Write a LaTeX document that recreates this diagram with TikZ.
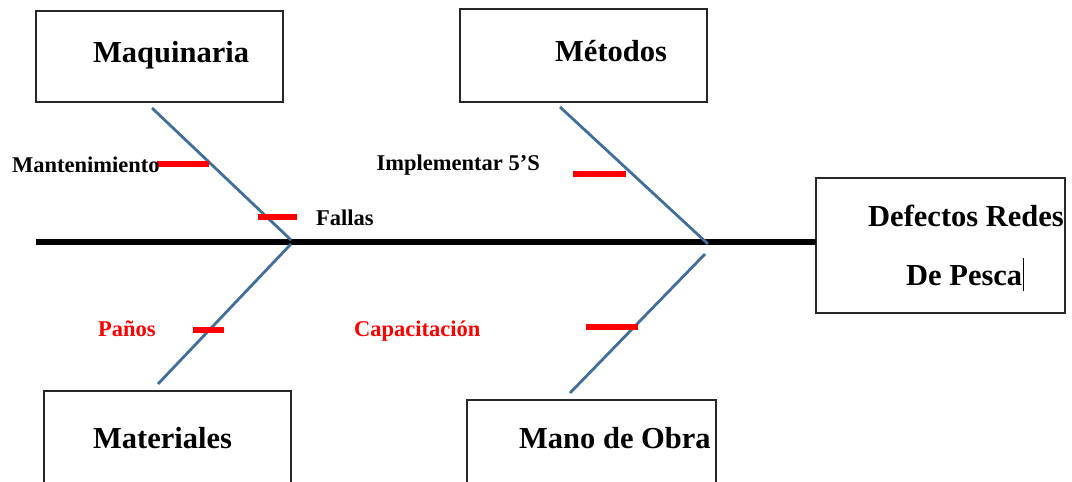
\documentclass[tikz,border=0pt]{standalone}
\usepackage{fontspec}
\setmainfont{Liberation Serif}
\definecolor{bonec}{RGB}{65,110,155}
\definecolor{boxc}{RGB}{40,40,40}
\begin{document}
\begin{tikzpicture}[x=1pt,y=-1pt,
  box/.style={draw=boxc, line width=1.2pt, inner sep=0pt},
  title/.style={font=\bfseries\fontsize{30.5}{32}\selectfont, inner sep=0pt, anchor=base west},
  lab/.style={font=\bfseries\fontsize{22.5}{24}\selectfont, inner sep=0pt, anchor=base west},
  bone/.style={draw=bonec, line width=2.8pt},
  tickline/.style={draw=red, line width=6pt},
  spine/.style={draw=black, line width=5.5pt}]
\clip (0,0) rectangle (1072,482);
\fill[white] (0,0) rectangle (1072,482);
% boxes
\node[box, minimum width=247pt, minimum height=91pt] (bmaq) at (159.5,56.5) {};
\node[box, minimum width=247pt, minimum height=93pt] (bmet) at (583.5,55.5) {};
\node[box, minimum width=249pt, minimum height=135pt] (bdef) at (940.5,245.5) {};
\node[box, minimum width=247pt, minimum height=110pt] (bmat) at (167.5,446) {};
\node[box, minimum width=249pt, minimum height=110pt] (bmo) at (591.5,455) {};
% titles
\node[title] (tmaq) at (93,62) {Maquinaria};
\node[title] (tmet) at (555,61) {Métodos};
\node[title] (tdef1) at (868,226) {Defectos Redes};
\node[title] (tdef2) at (906,285) {De Pesca};
\node[title] (tmat) at (93,448) {Materiales};
\node[title] (tmo) at (519,448) {Mano de Obra};
% cursor mark
\coordinate (c1) at (1023.5,258);
\coordinate (c2) at (1023.5,291);
\draw[line width=1pt] (c1) -- (c2);
% spine
\coordinate (s0) at (36,242);
\coordinate (s1) at (816,242);
\draw[spine] (s0) -- (s1);
% bones
\coordinate (a1) at (152,108);
\coordinate (a2) at (291,240);
\coordinate (b1) at (291,244);
\coordinate (b2) at (158,384);
\coordinate (c3) at (560,107);
\coordinate (c4) at (708,244);
\coordinate (d1) at (705,254);
\coordinate (d2) at (570,393);
\draw[bone] (a1) -- (a2);
\draw[bone] (b1) -- (b2);
\draw[bone] (c3) -- (c4);
\draw[bone] (d1) -- (d2);
% ticks
\coordinate (t1a) at (157,164); \coordinate (t1b) at (209,164);
\coordinate (t2a) at (258,216.5); \coordinate (t2b) at (297,216.5);
\coordinate (t3a) at (573,174); \coordinate (t3b) at (626,174);
\coordinate (t4a) at (193,330); \coordinate (t4b) at (224,330);
\coordinate (t5a) at (586,327); \coordinate (t5b) at (638,327);
\draw[tickline] (t1a) -- (t1b);
\draw[tickline] (t2a) -- (t2b);
\draw[tickline] (t3a) -- (t3b);
\draw[tickline] (t4a) -- (t4b);
\draw[tickline] (t5a) -- (t5b);
% labels
\node[lab] (lman) at (12,172) {Mantenimiento};
\node[lab] (lfal) at (316,225) {Fallas};
\node[lab] (limp) at (376.5,170) {Implementar 5’S};
\node[lab, text=red] (lpan) at (98,336) {Paños};
\node[lab, text=red] (lcap) at (354,336) {Capacitación};
\end{tikzpicture}
\end{document}
